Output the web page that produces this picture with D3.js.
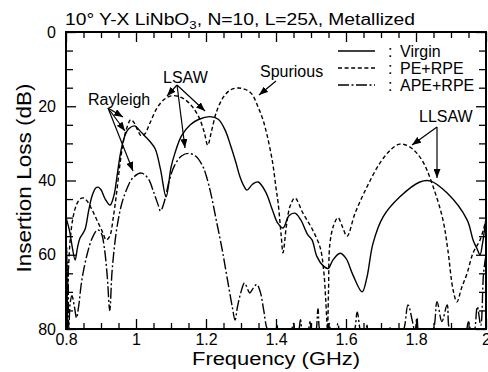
<!DOCTYPE html>
<html>
<head>
<meta charset="utf-8">
<script src="https://cdn.jsdelivr.net/npm/d3@7"></script>
<style>
  body { margin: 0; background: #fff; }
  svg text { font-family: "Liberation Sans", Arial, sans-serif; fill: #000; }
</style>
</head>
<body>
<div class="chart"></div>
<script>
// frequency (GHz) / insertion loss (dB)

// Virgin (solid)
var virginFreq = [0.800, 0.810, 0.818, 0.826, 0.833, 0.840, 0.848, 0.855, 0.865, 0.875, 0.885, 0.892, 0.900, 0.912, 0.926,
    0.937, 0.947, 0.957, 0.968, 0.980, 0.997, 1.010, 1.025, 1.040, 1.055, 1.070, 1.086, 1.100, 1.111, 1.130, 1.155,
    1.180, 1.211, 1.235, 1.255, 1.270, 1.285, 1.297, 1.310, 1.317, 1.333, 1.349, 1.370, 1.390, 1.405, 1.420, 1.437,
    1.454, 1.470, 1.490, 1.503, 1.517, 1.535, 1.549, 1.562, 1.583, 1.600, 1.620, 1.646, 1.660, 1.677, 1.706, 1.754,
    1.811, 1.840, 1.889, 1.946, 1.963, 1.975, 1.983, 1.990, 2.000];
var virginLoss = [50, 53.5, 58, 61.4, 58, 55.5, 54.3, 53, 48, 44, 42, 41.8, 42.5, 45, 46.6,
    44, 38, 32, 28, 26, 25.3, 26.5, 28, 29.5, 31.5, 37, 44.4, 36.5, 32.7, 28, 25,
    23.5, 22.8, 23.5, 26.5, 30.5, 35, 39, 41.8, 42.6, 41, 40.4, 43, 48, 51.5, 52.8, 49.5,
    48.8, 50.5, 54.5, 56, 60.5, 63, 63.7, 61.5, 59.6, 61, 65.5, 70, 66, 57, 49.8, 44.4,
    40.4, 40.1, 43.4, 50.6, 56, 58.5, 60, 57, 50];

// PE+RPE (dashed)
var peFreq = [0.800, 0.806, 0.812, 0.820, 0.830, 0.840, 0.850, 0.860, 0.875, 0.890, 0.905, 0.915, 0.925, 0.935, 0.945,
    0.955, 0.965, 0.975, 0.985, 0.995, 1.005, 1.015, 1.025, 1.040, 1.060, 1.080, 1.100, 1.120, 1.140, 1.160, 1.180,
    1.195, 1.205, 1.215, 1.230, 1.250, 1.270, 1.290, 1.310, 1.330, 1.350, 1.363, 1.375, 1.390, 1.400, 1.406, 1.415,
    1.420, 1.430, 1.440, 1.454, 1.477, 1.503, 1.526, 1.536, 1.542, 1.547, 1.550, 1.554, 1.565, 1.577, 1.590, 1.603,
    1.626, 1.660, 1.697, 1.730, 1.754, 1.783, 1.817, 1.849, 1.877, 1.891, 1.906, 1.917, 1.930, 1.946, 1.963, 1.983, 2.000];
var peLoss = [80, 66, 56, 50, 46.5, 45, 44.7, 45.5, 48, 51, 54, 56, 55, 50, 43,
    35, 29, 25.5, 23.6, 24.5, 26.5, 28, 27.5, 24.5, 20.5, 18.2, 17.2, 17.3, 18.2, 20, 23,
    27, 30.5, 27, 21.5, 17.5, 15.6, 15.1, 15.4, 16.6, 20.5, 23.7, 28, 35, 42, 46, 55,
    59.5, 52, 47, 44.7, 48.8, 53, 58, 64, 72, 80, 70, 57, 52, 50, 52.5, 55,
    48.8, 41.7, 35.3, 31.5, 30.2, 31, 34.5, 41.7, 50.6, 58.7, 69.5, 72.7, 69, 65, 59.5, 56, 50.6];

// APE+RPE (dash-dot), values past 80 dB run off the bottom of the frame
var apeFreq = [0.800, 0.802, 0.804, 0.806, 0.808, 0.812, 0.817, 0.824, 0.830, 0.836, 0.845, 0.860, 0.875, 0.890, 0.900,
    0.910, 0.918, 0.925, 0.932, 0.945, 0.960, 0.975, 0.990, 1.015, 1.035, 1.050, 1.063, 1.070, 1.080, 1.095, 1.110,
    1.130, 1.150, 1.170, 1.190, 1.200, 1.215, 1.230, 1.245, 1.260, 1.275, 1.283, 1.290, 1.300, 1.310, 1.320, 1.325,
    1.335, 1.345, 1.355, 1.365, 1.375, 1.385, 1.398, 1.403, 1.408, 1.440, 1.450, 1.455, 1.463, 1.470, 1.477, 1.490,
    1.497, 1.503, 1.512, 1.520, 1.528, 1.545, 1.552, 1.558, 1.570, 1.577, 1.584, 1.620, 1.632, 1.644, 1.655, 1.660,
    1.665, 1.720, 1.725, 1.730, 1.760, 1.777, 1.790, 1.797, 1.803, 1.810, 1.845, 1.860, 1.874, 1.889, 1.900, 1.940,
    1.950, 1.958, 1.965, 1.975, 1.985, 1.993, 2.000];
var apeLoss = [80, 58, 80, 62, 80, 73, 71, 74, 77, 74, 67, 60, 55.5, 53.3, 54,
    58.5, 66, 75, 64, 53, 46, 42, 39.4, 38, 39.5, 43, 46.5, 48.2, 46, 40, 36,
    33.4, 32.7, 33.4, 36, 38.5, 44, 51, 58, 66, 74, 77.6, 74, 70, 67.6, 69.5, 70.3,
    69, 68, 70, 75, 80, 81, 81, 79, 81, 81, 78.5, 81, 81, 77.5, 81, 81,
    78, 81, 81, 74.5, 81, 81, 78.5, 81, 81, 78.5, 81, 81, 75.5, 81, 81, 79,
    81, 81, 79.5, 81, 81, 73.5, 78, 81, 77, 81, 81, 72.7, 78, 73.5, 81, 81,
    78, 81, 81, 74, 79, 65, 60];

// axis ticks
var xMajor = [0.8, 1.0, 1.2, 1.4, 1.6, 1.8, 2.0];
var xMinor = [0.85, 0.9, 0.95, 1.05, 1.1, 1.15, 1.25, 1.3, 1.35, 1.45, 1.5, 1.55, 1.65, 1.7, 1.75, 1.85, 1.9, 1.95];
var yMajor = [0, 20, 40, 60, 80];
var yMinor = [5, 10, 15, 25, 30, 35, 45, 50, 55, 65, 70, 75];

var legendNames = ["Virgin", "PE+RPE", "APE+RPE"];

// svg size and plot frame
var svgWidth = 488;
var svgHeight = 372;
var plotLeft = 66, plotRight = 486, plotTop = 32, plotBottom = 329;

var svg = d3.select(".chart")
    .append("svg")
    .attr("width", svgWidth)
    .attr("height", svgHeight);

var x = d3.scaleLinear().domain([0.8, 2.0]).range([plotLeft, plotRight]);
var y = d3.scaleLinear().domain([0, 80]).range([plotTop, plotBottom]);

var dashes = ["none", "4,2.6", "11,2.5,2,2.5"];

svg.append("clipPath")
    .attr("id", "plotClip")
    .append("rect")
    .attr("x", plotLeft)
    .attr("y", plotTop)
    .attr("width", plotRight - plotLeft)
    .attr("height", plotBottom - plotTop);

var line = d3.line()
    .x(d => x(d[0]))
    .y(d => y(d[1]))
    .curve(d3.curveCatmullRom.alpha(0.5));

var series = [
    d3.zip(virginFreq, virginLoss),
    d3.zip(peFreq, peLoss),
    d3.zip(apeFreq, apeLoss)
];

var curves = svg.append("g").attr("clip-path", "url(#plotClip)");
series.forEach(function(s, i) {
    curves.append("path")
        .attr("d", line(s))
        .attr("fill", "none")
        .attr("stroke", "#000")
        .attr("stroke-width", 1.4)
        .attr("stroke-dasharray", dashes[i]);
});

// ticks on all four sides, pointing in
function tickFmt(d) { return String(+d.toFixed(1)); }

function addAxis(axis, tx, ty, labels) {
    var g = svg.append("g")
        .attr("transform", `translate(${tx},${ty})`)
        .call(axis);
    g.select(".domain").remove();
    g.selectAll("line").attr("stroke", "#000").attr("stroke-width", 1.3);
    g.selectAll("text")
        .attr("font-family", "Liberation Sans, Arial, sans-serif")
        .attr("font-size", 16)
        .attr("fill", "#000");
    if (!labels) g.selectAll("text").remove();
    return g;
}

addAxis(d3.axisBottom(x).tickValues(xMajor).tickSize(-10).tickPadding(5).tickFormat(tickFmt), 0, plotBottom, true);
addAxis(d3.axisBottom(x).tickValues(xMinor).tickSize(-6).tickFormat(""), 0, plotBottom, false);
addAxis(d3.axisTop(x).tickValues(xMajor).tickSize(-10).tickFormat(""), 0, plotTop, false);
addAxis(d3.axisTop(x).tickValues(xMinor).tickSize(-6).tickFormat(""), 0, plotTop, false);
addAxis(d3.axisLeft(y).tickValues(yMajor).tickSize(-10).tickPadding(10).tickFormat(d3.format("d")), plotLeft, 0, true);
addAxis(d3.axisLeft(y).tickValues(yMinor).tickSize(-7).tickFormat(""), plotLeft, 0, false);
addAxis(d3.axisRight(y).tickValues(yMajor).tickSize(-10).tickFormat(""), plotRight, 0, false);
addAxis(d3.axisRight(y).tickValues(yMinor).tickSize(-7).tickFormat(""), plotRight, 0, false);

// frame
svg.append("rect")
    .attr("x", plotLeft)
    .attr("y", plotTop)
    .attr("width", plotRight - plotLeft)
    .attr("height", plotBottom - plotTop)
    .attr("fill", "none")
    .attr("stroke", "#000")
    .attr("stroke-width", 2);

// title
var title = svg.append("text")
    .attr("x", 65)
    .attr("y", 25)
    .attr("font-size", 16)
    .attr("textLength", 350)
    .attr("lengthAdjust", "spacingAndGlyphs");
title.append("tspan").text("10\u00b0  Y-X  LiNbO");
title.append("tspan").attr("font-size", 11).attr("dy", 4).text("3");
title.append("tspan").attr("dy", -4).text(",  N=10,  L=25\u03bb,  Metallized");

// axis titles
svg.append("text")
    .attr("x", 276)
    .attr("y", 365)
    .attr("text-anchor", "middle")
    .attr("font-size", 18)
    .attr("textLength", 168)
    .attr("lengthAdjust", "spacingAndGlyphs")
    .text("Frequency  (GHz)");

svg.append("text")
    .attr("transform", "translate(31,178) rotate(-90)")
    .attr("text-anchor", "middle")
    .attr("font-size", 20)
    .attr("textLength", 189)
    .attr("lengthAdjust", "spacingAndGlyphs")
    .text("Insertion  Loss  (dB)");

// legend
var legend = svg.append("g");
legendNames.forEach(function(name, i) {
    var ly = 51 + i * 17;
    legend.append("line")
        .attr("x1", 338).attr("x2", 375)
        .attr("y1", ly).attr("y2", ly)
        .attr("stroke", "#000")
        .attr("stroke-width", 1.4)
        .attr("stroke-dasharray", dashes[i]);
    legend.append("text")
        .attr("x", 388).attr("y", ly + 6)
        .attr("font-size", 16)
        .text(":");
    legend.append("text")
        .attr("x", 400).attr("y", ly + 6)
        .attr("font-size", 16)
        .text(name);
});

// annotations with arrows
svg.append("defs").append("marker")
    .attr("id", "head")
    .attr("markerUnits", "userSpaceOnUse")
    .attr("markerWidth", 9)
    .attr("markerHeight", 7)
    .attr("refX", 9)
    .attr("refY", 3.5)
    .attr("orient", "auto")
    .append("path")
    .attr("d", "M0,0 L9,3.5 L0,7 z")
    .attr("fill", "#000");

var notes = [
    { text: "Rayleigh", tx: 88, ty: 105, from: [108, 108], to: [[123, 117], [125, 131], [133, 171]] },
    { text: "LSAW", tx: 163, ty: 83, from: [177, 85], to: [[167, 96], [205, 111], [185, 148]] },
    { text: "Spurious", tx: 260, ty: 77, from: [276, 81], to: [[259, 95]] },
    { text: "LLSAW", tx: 419, ty: 122, from: [437, 127], to: [[412, 145], [437, 178]] }
];

notes.forEach(function(n) {
    svg.append("text")
        .attr("x", n.tx)
        .attr("y", n.ty)
        .attr("font-size", 16)
        .text(n.text);
    n.to.forEach(function(t) {
        svg.append("line")
            .attr("x1", n.from[0]).attr("y1", n.from[1])
            .attr("x2", t[0]).attr("y2", t[1])
            .attr("stroke", "#000")
            .attr("stroke-width", 1.2)
            .attr("marker-end", "url(#head)");
    });
});
</script>
</body>
</html>
